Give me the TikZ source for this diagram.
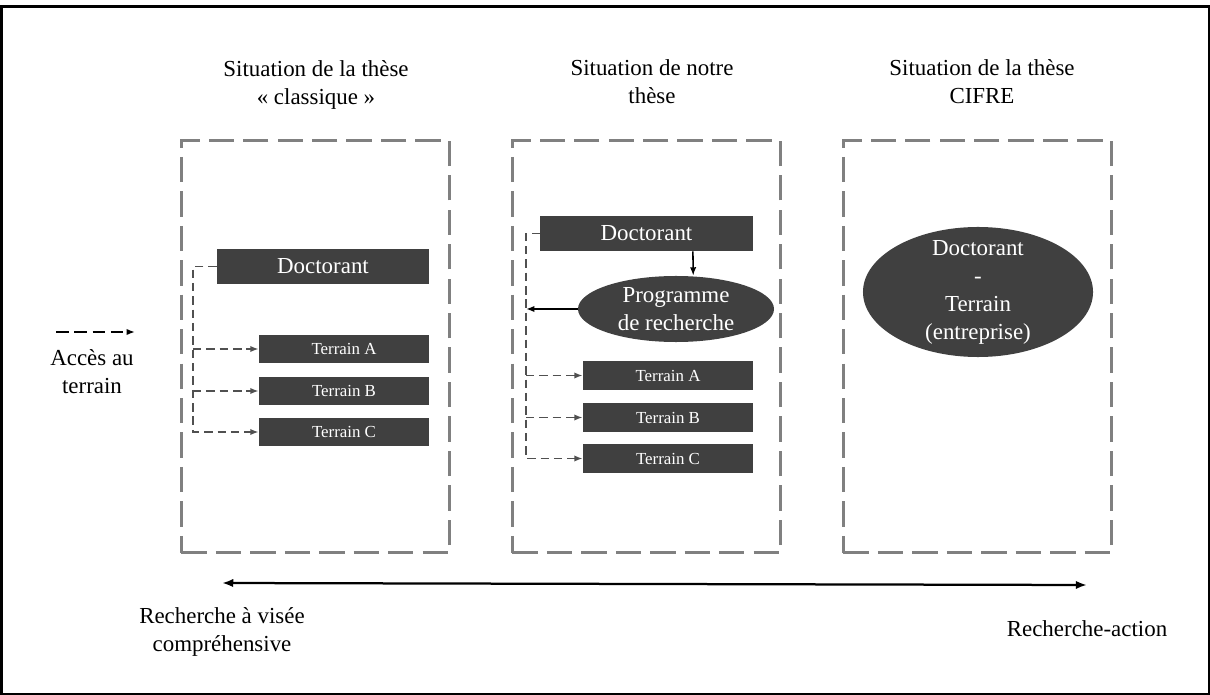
\documentclass[tikz,border=0pt]{standalone}
\usepackage{fontspec}
\setmainfont{Liberation Serif}
\usetikzlibrary{arrows.meta,shapes,calc}
\definecolor{fondbloc}{RGB}{64,64,64}
\definecolor{traitcadre}{RGB}{128,128,128}
\definecolor{traitlien}{RGB}{80,80,80}
\tikzset{
	every node/.style={
		font=\fontsize{16.3}{19.9}\selectfont
	},
	cadre/.style={
		shape=rectangle,
		draw=traitcadre,
		line width=2pt,
		dash pattern=on 18pt off 6.5pt,
		minimum width=6.7cm,
		minimum height=10.3cm,
		inner sep=0pt
	},
	titre/.style={
		align=center
	},
	doctorant/.style={
		shape=rectangle,
		fill=fondbloc,
		text=white,
		minimum width=5.3cm,
		minimum height=0.875cm,
		inner sep=0pt
	},
	terrainbox/.style={
		shape=rectangle,
		fill=fondbloc,
		text=white,
		minimum width=4.25cm,
		minimum height=0.7cm,
		inner sep=0pt,
		font=\fontsize{12}{14}\selectfont
	},
	programme/.style={
		shape=ellipse,
		fill=fondbloc,
		text=white,
		align=center,
		inner xsep=0pt,
		inner ysep=-12pt
	},
	lien/.style={
		draw=traitlien,
		line width=1.1pt,
		dash pattern=on 6pt off 3.5pt,
		-{Latex[length=6pt,width=4.5pt]}
	},
	fleche/.style={
		draw=black,
		line width=1.1pt,
		-{Latex[length=6pt,width=4.5pt]}
	}
}

\begin{document}
\begin{tikzpicture}[x=0.025cm,y=-0.025cm]
	
	\useasboundingbox (0,0) rectangle (1210,695);
	\draw[line width=1.5pt] (1.5,6.5) rectangle (1209,694);
	
	% titres
	\node[titre] (titreA) at (316,84.5) {Situation de la thèse\\« classique »};
	\node[titre] (titreB) at (652,82) {Situation de notre\\thèse};
	\node[titre] (titreC) at (982,82) {Situation de la thèse\\CIFRE};
	
	% acces au terrain
	\coordinate (accG) at (56,332);
	\coordinate (accD) at (135,332);
	\draw[fleche, dash pattern=on 9pt off 4pt] (accG) -- (accD);
	\node[titre] (acces) at (92,371.5) {Accès au\\terrain};
	
	% these classique
	\node[cadre] (cadreA) at (315.5,346.5) {};
	\node[doctorant] (docA) at (323,266.5) {Doctorant};
	\node[terrainbox] (terA1) at (344,349) {Terrain A};
	\node[terrainbox] (terB1) at (344,391) {Terrain B};
	\node[terrainbox] (terC1) at (344,432) {Terrain C};
	\coordinate (busA) at (193,266.5);
	\draw[lien] (docA.west) -- (busA) |- (terC1.west);
	\foreach \t in {terA1,terB1} {
		\draw[lien] (busA |- \t.west) -- (\t.west);
	}
	
	% notre these
	\node[cadre] (cadreB) at (646.5,346.5) {};
	\node[doctorant] (docB) at (646.5,233.5) {Doctorant};
	\node[programme, minimum width=4.9cm, minimum height=1.65cm] (prog) at (676,309) {Programme\\de recherche};
	\node[terrainbox] (terA2) at (668,375.5) {Terrain A};
	\node[terrainbox] (terB2) at (668,417.5) {Terrain B};
	\node[terrainbox] (terC2) at (668,458.5) {Terrain C};
	\coordinate (busB) at (526,233.5);
	\draw[lien] (docB.west) -- (busB) |- (terC2.west);
	\foreach \t in {terA2,terB2} {
		\draw[lien] (busB |- \t.west) -- (\t.west);
	}
	\draw[fleche] ([xshift=1.16cm]docB.south) -- ([xshift=0.43cm]prog.north);
	\draw[fleche] (prog.west) -- (prog.west -| busB);
	
	% these CIFRE
	\node[cadre] (cadreC) at (977.5,346.5) {};
	\node[programme, minimum width=5.75cm, minimum height=3.25cm] (cifre) at (978,292) {Doctorant\\-\\Terrain\\(entreprise)};
	
	% axe
	\coordinate (axeG) at (222,583);
	\coordinate (axeD) at (1087,585);
	\draw[{Latex[length=8pt,width=6pt]}-{Latex[length=8pt,width=6pt]}, line width=1.6pt] (axeG) -- (axeD);
	\node[titre] (rechG) at (222,631.5) {Recherche à visée\\compréhensive};
	\node (rechD) at (1087,629) {Recherche-action};
	
\end{tikzpicture}
\end{document}
